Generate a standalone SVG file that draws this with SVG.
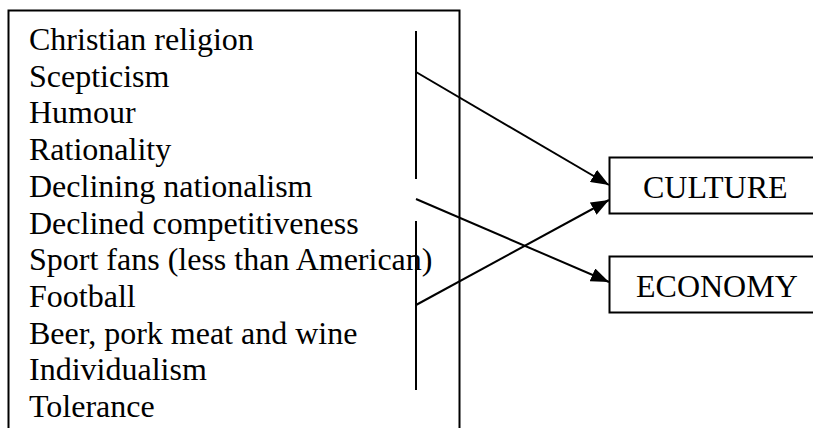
<svg xmlns="http://www.w3.org/2000/svg" width="813" height="428" viewBox="0 0 813 428">
<style>
.t{font-family:"Liberation Serif","Times New Roman",serif;font-size:32px;fill:#000}
.b{fill:#fff;stroke:#000;stroke-width:2}
.c{stroke:#000;stroke-width:2;fill:none}
</style>
<defs>
<marker id="ah" viewBox="0 0 18 14" refX="18" refY="7" markerWidth="18" markerHeight="14" markerUnits="userSpaceOnUse" orient="auto">
<path d="M0,0 L18,7 L0,14 Z" fill="#000"/>
</marker>
</defs>
<rect width="813" height="428" fill="#fff"/>
<g id="traits">
<rect class="b" x="8.5" y="10.5" width="451" height="430"/>
<text class="t" x="29" y="50">Christian religion</text>
<text class="t" x="29" y="86.7">Scepticism</text>
<text class="t" x="29" y="123.4">Humour</text>
<text class="t" x="29" y="160.1">Rationality</text>
<text class="t" x="29" y="196.8">Declining nationalism</text>
<text class="t" x="29" y="233.5">Declined competitiveness</text>
<text class="t" x="29" y="270.2">Sport fans (less than American)</text>
<text class="t" x="29" y="306.9">Football</text>
<text class="t" x="29" y="343.6">Beer, pork meat and wine</text>
<text class="t" x="29" y="380.3">Individualism</text>
<text class="t" x="29" y="417">Tolerance</text>
</g>
<g id="culture">
<rect class="b" x="609.5" y="157.5" width="220" height="56"/>
<text class="t" x="643" y="198">CULTURE</text>
</g>
<g id="economy">
<rect class="b" x="609.5" y="256.5" width="220" height="56"/>
<text class="t" x="636" y="297">ECONOMY</text>
</g>
<g id="connectors">
<line class="c" x1="416" y1="31" x2="416" y2="179"/>
<line class="c" x1="416" y1="221" x2="416" y2="390"/>
<line class="c" x1="416" y1="72" x2="609" y2="185" marker-end="url(#ah)"/>
<line class="c" x1="416" y1="199" x2="609" y2="282" marker-end="url(#ah)"/>
<line class="c" x1="416" y1="305" x2="609" y2="200" marker-end="url(#ah)"/>
</g>
</svg>
